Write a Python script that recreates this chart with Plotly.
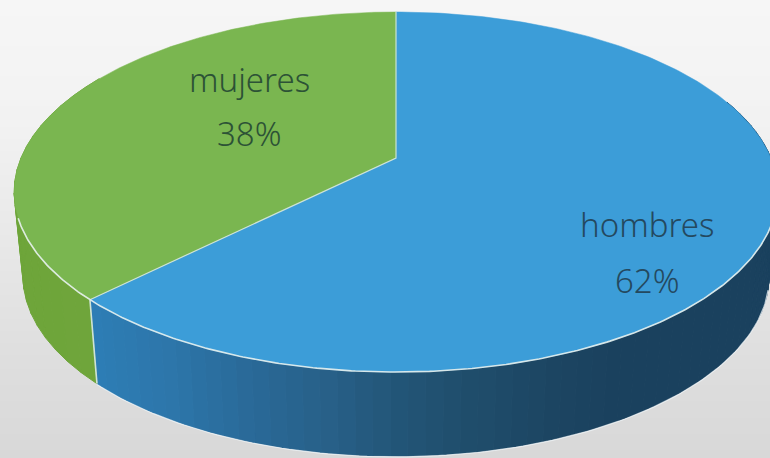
import numpy as np
import plotly.graph_objects as go

categories = ["hombres", "mujeres"]
slice_shares = [62.5, 37.5]
percent_labels = ["62%", "38%"]
top_colors = ["#3c9dd8", "#7ab650"]
label_colors = ["#24495f", "#2c5236"]
label_xy = [(647, 224, 280), (249, 79, 133)]

bg_stops_y = [0, 120, 240, 360, 458]
bg_levels = [246, 242, 232, 222, 216]
blue_x = [90, 170, 250, 330, 396, 470, 540, 610, 770]
blue_r = [46, 45, 42, 40, 35, 32, 29, 27, 26]
blue_g = [126, 118, 106, 96, 86, 78, 71, 66, 65]
blue_b = [182, 170, 152, 136, 120, 108, 100, 95, 94]
green_x = [14, 97]
green_r = [110, 112]
green_g = [165, 165]
green_b = [58, 60]

W, H = 770, 458
CX, CY, A, B, K = 396.0, 158.0, 375.0, 173.6, 0.189
BOT_SCALE, BOT_DY = 0.977, 84.0


def project(theta, r=1.0, bottom=False):
    u, v = r * np.sin(theta), r * np.cos(theta)
    d = 1 + K * v
    x, y = A * u / d, -B * v / d
    if bottom:
        return CX + BOT_SCALE * x, CY + y + BOT_DY
    return CX + x, CY + y


fig = go.Figure()
fig.add_trace(go.Heatmap(
    x=[0, W], y=bg_stops_y, z=[[l, l] for l in bg_levels], zmin=0, zmax=255,
    colorscale=[[0, "rgb(0,0,0)"], [1, "rgb(255,255,255)"]], showscale=False,
    zsmooth="best", hoverinfo="skip"))

edges = np.cumsum([0] + slice_shares) / sum(slice_shares) * 2 * np.pi


def side_colour(x, idx):
    xs, r, g, b = (blue_x, blue_r, blue_g, blue_b) if idx == 0 else (green_x, green_r, green_g, green_b)
    return "rgb(%d,%d,%d)" % (np.interp(x, xs, r), np.interp(x, xs, g), np.interp(x, xs, b))


# side wall, front part only
for idx in range(2):
    t0 = max(edges[idx], np.radians(70))
    t1 = min(edges[idx + 1], np.radians(300))
    steps = np.linspace(t0, t1, 71 if idx == 0 else 21)
    for a, b in zip(steps[:-1], steps[1:]):
        tt = np.array([a, b])
        xt, yt = project(tt)
        xb, yb = project(tt, bottom=True)
        col = side_colour(float(np.mean(xt)), idx)
        fig.add_trace(go.Scatter(
            x=[xt[0], xt[1], xb[1], xb[0], xt[0]], y=[yt[0], yt[1], yb[1], yb[0], yt[0]],
            mode="lines", fill="toself", fillcolor=col, line=dict(color=col, width=1),
            hoverinfo="skip", showlegend=False))

# light line along the lower outline of the wall
tb = np.linspace(np.radians(105), edges[1], 120)
xb, yb = project(tb, bottom=True)
fig.add_trace(go.Scatter(x=xb, y=yb + 0.8, mode="lines", line=dict(color="rgba(240,245,248,0.75)", width=1.2),
                         hoverinfo="skip", showlegend=False))

# top faces
for idx in range(2):
    tt = np.linspace(edges[idx], edges[idx + 1], 240)
    x, y = project(tt)
    xs = np.concatenate([[CX], x, [CX]])
    ys = np.concatenate([[CY], y, [CY]])
    fig.add_trace(go.Scatter(x=xs, y=ys, mode="lines", fill="toself", fillcolor=top_colors[idx],
                             line=dict(color=top_colors[idx], width=0.5),
                             hoverinfo="skip", showlegend=False))

# light rim lines
rim_t = np.linspace(np.radians(106), np.radians(251), 300)
xr, yr = project(rim_t)
fig.add_trace(go.Scatter(x=xr, y=yr, mode="lines", line=dict(color="rgba(232,242,240,0.9)", width=1.6),
                         hoverinfo="skip", showlegend=False))
xe, ye = project(np.array([0.0, edges[1]]))
fig.add_trace(go.Scatter(x=[xe[0], CX, xe[1]], y=[ye[0], CY, ye[1]], mode="lines",
                         line=dict(color="rgba(225,238,240,0.8)", width=1.2),
                         hoverinfo="skip", showlegend=False))
xbj, ybj = project(np.array([edges[1]]), bottom=True)
fig.add_trace(go.Scatter(x=[xe[1], xbj[0]], y=[ye[1], ybj[0]], mode="lines",
                         line=dict(color="rgba(225,238,240,0.85)", width=1.6),
                         hoverinfo="skip", showlegend=False))

annotations = []
for name, pct, col, (lx, y1, y2) in zip(categories, percent_labels, label_colors, label_xy):
    for text, ly in ((name, y1), (pct, y2)):
        annotations.append(dict(x=lx, y=ly, text=text, showarrow=False, xanchor="center", yanchor="middle",
                                font=dict(family="Noto Sans, Lato, sans-serif", size=33, weight=300, color=col)))

fig.update_layout(
    width=W, height=H, margin=dict(l=0, r=0, t=0, b=0), showlegend=False,
    paper_bgcolor="#ececec", plot_bgcolor="#ececec", annotations=annotations,
    xaxis=dict(range=[0, W], visible=False, fixedrange=True),
    yaxis=dict(range=[H, 0], visible=False, fixedrange=True))
fig.write_html("out.html", config=dict(displayModeBar=False),
               post_script="document.body.style.margin='0';document.body.style.overflow='hidden';")
